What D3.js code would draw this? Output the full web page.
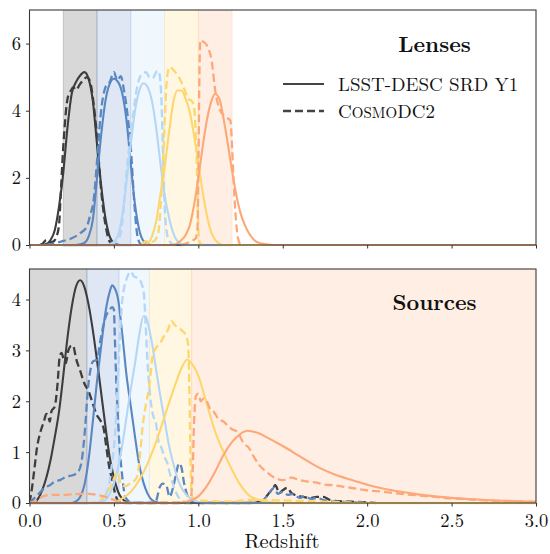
<!DOCTYPE html>
<html>
<head>
<meta charset="utf-8">
<script src="https://cdn.jsdelivr.net/npm/d3@7"></script>
<style>
  html, body { margin: 0; padding: 0; background: #fff; }
  svg { display: block; }
</style>
</head>
<body>
<svg id="chart" width="550" height="554"></svg>
<script>
// ---------------- DATA ----------------
const xTicks = [0, 0.5, 1.0, 1.5, 2.0, 2.5, 3.0];
const lensYTicks = [0, 2, 4, 6];
const srcYTicks = [0, 1, 2, 3, 4];
const binColors = ["#3d3d3d", "#5a87c1", "#b4d6f7", "#fdd76d", "#fda878"];
const lensEdges = [0.2, 0.4, 0.6, 0.8, 1.0, 1.2];
const srcEdges = [0.0, 0.34, 0.53, 0.71, 0.96, 3.05];
const legendLabels = ["LSST-DESC SRD Y1", "CosmoDC2"];

// Lenses, LSST-DESC SRD Y1 (solid), [redshift, n(z)]
const lensY1_1 = [[0.075,0],[0.1,0.03],[0.125,0.15],[0.15,0.45],[0.175,1.15],[0.2,2.15],[0.225,3.5],[0.25,4.5],[0.275,4.85],[0.3,5.05],[0.325,5.15],[0.35,4.95],[0.375,4.3],[0.4,3.0],[0.425,1.75],[0.45,0.8],[0.475,0.25],[0.5,0.06],[0.525,0.01],[0.55,0]];
const lensY1_2 = [[0.275,0],[0.3,0.02],[0.325,0.06],[0.35,0.25],[0.375,0.75],[0.4,2.0],[0.425,3.3],[0.45,4.3],[0.475,4.8],[0.5,4.95],[0.525,4.85],[0.55,4.5],[0.575,3.7],[0.6,2.4],[0.625,1.2],[0.65,0.45],[0.675,0.12],[0.7,0.03],[0.725,0]];
const lensY1_3 = [[0.45,0],[0.475,0.03],[0.5,0.1],[0.525,0.3],[0.55,0.9],[0.575,1.9],[0.6,3.0],[0.625,4.0],[0.65,4.6],[0.675,4.82],[0.7,4.7],[0.725,4.3],[0.75,3.5],[0.775,2.45],[0.8,1.5],[0.825,0.85],[0.85,0.38],[0.875,0.12],[0.9,0.03],[0.925,0]];
const lensY1_4 = [[0.675,0],[0.7,0.05],[0.725,0.25],[0.75,0.7],[0.775,1.5],[0.8,2.3],[0.825,3.3],[0.85,4.2],[0.875,4.6],[0.9,4.6],[0.925,4.35],[0.95,3.95],[0.975,3.25],[1.0,2.45],[1.025,1.6],[1.05,0.9],[1.075,0.4],[1.1,0.15],[1.125,0.04],[1.15,0]];
const lensY1_5 = [[0.85,0],[0.875,0.05],[0.9,0.15],[0.925,0.3],[0.95,0.6],[0.975,1.2],[1.0,2.0],[1.025,2.9],[1.05,3.7],[1.075,4.25],[1.1,4.5],[1.125,4.35],[1.15,3.75],[1.175,3.0],[1.2,2.2],[1.225,1.5],[1.25,0.95],[1.275,0.6],[1.3,0.35],[1.325,0.18],[1.35,0.08],[1.4,0.02],[1.45,0]];

// Lenses, CosmoDC2 (dashed)
const lensDC2_1 = [[0.06,0],[0.08,0.05],[0.1,0.15],[0.12,0.08],[0.14,0.1],[0.16,0.25],[0.175,0.6],[0.185,1.5],[0.195,2.5],[0.205,3.3],[0.225,4.35],[0.245,4.6],[0.26,4.7],[0.275,4.62],[0.3,4.8],[0.325,4.95],[0.34,5.0],[0.36,4.85],[0.375,4.4],[0.4,3.2],[0.425,1.6],[0.45,0.6],[0.475,0.1],[0.5,0]];
const lensDC2_2 = [[0.1,0],[0.15,0.05],[0.2,0.12],[0.25,0.2],[0.3,0.35],[0.34,0.55],[0.36,0.9],[0.38,1.34],[0.4,2.5],[0.42,3.8],[0.45,4.7],[0.475,4.85],[0.5,5.15],[0.52,4.9],[0.54,5.03],[0.56,4.6],[0.58,3.9],[0.6,2.9],[0.62,1.3],[0.64,0.25],[0.66,0.02],[0.68,0]];
const lensDC2_3 = [[0.48,0],[0.5,0.05],[0.525,0.15],[0.545,0.5],[0.56,1.2],[0.57,1.9],[0.59,2.9],[0.61,3.7],[0.63,4.5],[0.65,4.95],[0.67,5.1],[0.69,5.15],[0.71,5.0],[0.73,4.97],[0.75,5.15],[0.765,5.18],[0.78,4.5],[0.79,2.8],[0.8,1.2],[0.81,0.5],[0.825,0.15],[0.85,0.02],[0.87,0]];
const lensDC2_4 = [[0.66,0],[0.7,0.12],[0.73,0.1],[0.76,0.3],[0.775,1.0],[0.785,1.9],[0.795,3.0],[0.805,4.2],[0.815,5.0],[0.83,5.3],[0.855,5.2],[0.885,5.0],[0.915,4.67],[0.94,4.35],[0.96,4.3],[0.975,4.1],[0.99,2.5],[1.0,0.5],[1.01,0.05],[1.03,0]];
const lensDC2_5 = [[0.9,0],[0.93,0.05],[0.96,0.12],[0.985,0.2],[0.995,0.5],[1.0,2.0],[1.005,4.5],[1.012,6.1],[1.03,6.05],[1.05,5.95],[1.08,5.45],[1.1,4.6],[1.13,4.0],[1.16,3.82],[1.19,3.7],[1.2,2.9],[1.21,1.8],[1.22,0.95],[1.235,0.2],[1.25,0.02],[1.27,0]];

// Sources, LSST-DESC SRD Y1 (solid)
const srcY1_1 = [[0.025,0],[0.05,0.08],[0.075,0.25],[0.1,0.5],[0.125,0.85],[0.15,1.3],[0.175,1.8],[0.2,2.5],[0.225,3.25],[0.25,3.85],[0.275,4.25],[0.3,4.38],[0.325,4.25],[0.35,3.9],[0.375,3.4],[0.4,2.8],[0.425,2.15],[0.45,1.5],[0.475,0.9],[0.5,0.5],[0.525,0.22],[0.55,0.08],[0.575,0.02],[0.6,0]];
const srcY1_2 = [[0.25,0],[0.275,0.03],[0.3,0.12],[0.325,0.35],[0.35,0.85],[0.375,1.6],[0.4,2.4],[0.425,3.1],[0.45,3.75],[0.475,4.15],[0.49,4.28],[0.5,4.25],[0.525,4.0],[0.55,3.3],[0.575,2.5],[0.6,1.9],[0.625,1.3],[0.65,0.75],[0.675,0.4],[0.7,0.18],[0.725,0.06],[0.75,0.02],[0.775,0]];
const srcY1_3 = [[0.4,0],[0.45,0.06],[0.475,0.18],[0.5,0.38],[0.525,0.7],[0.55,1.15],[0.575,1.7],[0.6,2.25],[0.625,2.75],[0.65,3.3],[0.675,3.67],[0.69,3.65],[0.7,3.55],[0.725,3.15],[0.75,2.62],[0.775,2.1],[0.8,1.63],[0.825,1.15],[0.85,0.8],[0.875,0.5],[0.9,0.3],[0.925,0.18],[0.95,0.1],[0.975,0.05],[1.0,0.02],[1.05,0]];
const srcY1_4 = [[0.5,0],[0.55,0.09],[0.6,0.22],[0.65,0.45],[0.7,0.78],[0.75,1.2],[0.8,1.7],[0.85,2.2],[0.9,2.65],[0.935,2.82],[0.95,2.78],[1.0,2.5],[1.05,1.95],[1.1,1.4],[1.15,1.0],[1.2,0.65],[1.25,0.35],[1.3,0.15],[1.35,0.07],[1.4,0.03],[1.5,0]];
const srcY1_5 = [[0.85,0],[0.9,0.01],[0.95,0.04],[1.0,0.13],[1.05,0.33],[1.1,0.62],[1.15,0.95],[1.2,1.2],[1.25,1.36],[1.29,1.42],[1.35,1.38],[1.4,1.3],[1.5,1.12],[1.6,0.92],[1.7,0.72],[1.8,0.57],[1.9,0.46],[2.0,0.36],[2.1,0.28],[2.2,0.22],[2.3,0.17],[2.4,0.13],[2.5,0.1],[2.6,0.08],[2.7,0.06],[2.8,0.045],[2.9,0.035],[3.0,0.025]];

// Sources, CosmoDC2 (dashed)
const srcDC2_1 = [[0,0],[0.015,0.3],[0.03,0.7],[0.045,1.1],[0.065,1.4],[0.085,1.6],[0.1,1.75],[0.11,1.72],[0.12,1.6],[0.13,1.8],[0.15,1.9],[0.165,2.3],[0.18,2.9],[0.19,2.95],[0.2,2.85],[0.215,2.75],[0.23,3.0],[0.25,3.1],[0.26,3.08],[0.275,2.85],[0.3,2.6],[0.325,2.35],[0.35,2.2],[0.375,1.95],[0.4,1.72],[0.42,1.62],[0.44,1.45],[0.455,1.1],[0.47,0.75],[0.49,0.45],[0.51,0.15],[0.53,0.02],[0.56,0],[1.3,0],[1.38,0.05],[1.42,0.2],[1.44,0.28],[1.456,0.35],[1.48,0.2],[1.5,0.25],[1.527,0.3],[1.55,0.2],[1.58,0.15],[1.62,0.12],[1.67,0.1],[1.7,0.12],[1.74,0.12],[1.78,0.06],[1.85,0.03],[1.95,0.02],[2.05,0]];
const srcDC2_2 = [[0,0],[0.03,0.1],[0.06,0.2],[0.09,0.3],[0.12,0.35],[0.15,0.42],[0.18,0.45],[0.22,0.52],[0.26,0.55],[0.29,0.62],[0.31,0.85],[0.33,1.5],[0.345,2.2],[0.36,2.6],[0.375,2.78],[0.4,2.82],[0.42,3.2],[0.45,3.65],[0.475,3.8],[0.49,3.85],[0.5,3.8],[0.505,3.3],[0.515,2.3],[0.53,1.3],[0.55,0.5],[0.57,0.1],[0.6,0.02],[0.65,0],[0.72,0],[0.75,0.05],[0.77,0.3],[0.79,0.38],[0.81,0.35],[0.83,0.12],[0.85,0.3],[0.87,0.6],[0.885,0.78],[0.9,0.7],[0.915,0.4],[0.935,0.15],[0.96,0.03],[1.0,0],[1.3,0],[1.38,0.05],[1.42,0.2],[1.45,0.3],[1.47,0.18],[1.5,0.22],[1.53,0.16],[1.56,0.18],[1.6,0.1],[1.63,0.13],[1.67,0.08],[1.7,0.1],[1.75,0.05],[1.8,0.03],[1.9,0.02],[2.0,0]];
const srcDC2_3 = [[0.4,0],[0.44,0.1],[0.47,0.35],[0.49,0.8],[0.51,1.5],[0.53,2.9],[0.55,4.0],[0.575,4.4],[0.6,4.55],[0.62,4.45],[0.645,4.42],[0.665,4.3],[0.678,4.1],[0.688,3.5],[0.7,2.7],[0.715,2.1],[0.73,1.75],[0.75,1.55],[0.765,1.2],[0.78,1.1],[0.8,0.9],[0.815,0.8],[0.83,0.6],[0.86,0.27],[0.89,0.08],[0.92,0.02],[0.95,0]];
const srcDC2_4 = [[0.35,0],[0.4,0.02],[0.43,0.09],[0.46,0.2],[0.49,0.4],[0.51,0.55],[0.525,0.6],[0.54,0.38],[0.57,0.33],[0.6,0.4],[0.625,0.45],[0.64,0.55],[0.655,0.95],[0.67,1.5],[0.69,1.95],[0.71,2.3],[0.73,2.9],[0.75,3.05],[0.775,3.15],[0.8,3.3],[0.82,3.4],[0.84,3.58],[0.86,3.5],[0.88,3.45],[0.9,3.4],[0.925,3.3],[0.94,3.1],[0.948,2.0],[0.955,0.6],[0.965,0.1],[1.0,0.05],[1.2,0.03],[1.3,0.06],[1.5,0.05],[1.8,0.02],[2.0,0]];
const srcDC2_5 = [[0,0],[0.03,0.03],[0.06,0.1],[0.1,0.15],[0.15,0.16],[0.2,0.16],[0.25,0.17],[0.3,0.18],[0.35,0.18],[0.4,0.16],[0.45,0.12],[0.5,0.06],[0.55,0.02],[0.6,0],[0.85,0],[0.93,0.02],[0.955,0.1],[0.965,0.5],[0.975,1.6],[0.985,2.1],[1.0,2.15],[1.015,2.0],[1.03,2.05],[1.05,2.0],[1.07,1.85],[1.09,1.8],[1.12,1.65],[1.15,1.6],[1.18,1.5],[1.2,1.45],[1.23,1.4],[1.27,1.17],[1.3,1.08],[1.33,0.9],[1.36,0.75],[1.4,0.62],[1.45,0.5],[1.5,0.45],[1.55,0.5],[1.6,0.45],[1.65,0.42],[1.7,0.4],[1.75,0.36],[1.8,0.35],[1.9,0.3],[2.0,0.25],[2.1,0.22],[2.2,0.18],[2.3,0.15],[2.4,0.12],[2.5,0.09],[2.6,0.07],[2.7,0.05],[2.8,0.04],[2.9,0.03],[3.0,0.02]];

const lensY1 = [lensY1_1, lensY1_2, lensY1_3, lensY1_4, lensY1_5];
const lensDC2 = [lensDC2_1, lensDC2_2, lensDC2_3, lensDC2_4, lensDC2_5];
const srcY1 = [srcY1_1, srcY1_2, srcY1_3, srcY1_4, srcY1_5];
const srcDC2 = [srcDC2_1, srcDC2_2, srcDC2_3, srcDC2_4, srcDC2_5];

// ---------------- LAYOUT ----------------
const FONT = "'Latin Modern Roman', 'Liberation Serif', serif";
const svg = d3.select("#chart");
const xL = 29.5, xR = 536;
const x = d3.scaleLinear().domain([0, 3]).range([xL, xR]);
const panels = [
  { top: 10, bottom: 245, ymax: 7.0, yTicks: lensYTicks, edges: lensEdges, y1: lensY1, dc2: lensDC2, title: "Lenses", titleY: 52, xLabels: false, id: "p1" },
  { top: 269, bottom: 503, ymax: 4.6, yTicks: srcYTicks, edges: srcEdges, y1: srcY1, dc2: srcDC2, title: "Sources", titleY: 310, xLabels: true, id: "p2" }
];

panels.forEach(p => {
  const y = d3.scaleLinear().domain([0, p.ymax]).range([p.bottom, p.top]);
  const g = svg.append("g");
  svg.append("clipPath").attr("id", "clip-" + p.id)
    .append("rect").attr("x", xL).attr("y", p.top).attr("width", xR - xL).attr("height", p.bottom - p.top + 1.5);

  const inner = g.append("g").attr("clip-path", `url(#clip-${p.id})`);

  // bands
  for (let i = 0; i < 5; i++) {
    inner.append("rect")
      .attr("x", x(p.edges[i])).attr("y", p.top - 2)
      .attr("width", x(p.edges[i + 1]) - x(p.edges[i]))
      .attr("height", p.bottom - p.top + 4)
      .attr("fill", binColors[i]).attr("fill-opacity", 0.2)
      .attr("stroke", binColors[i]).attr("stroke-opacity", 0.2).attr("stroke-width", 1);
  }

  const line = d3.line().x(d => x(d[0])).y(d => y(d[1])).curve(d3.curveMonotoneX);

  for (let i = 0; i < 5; i++) {
    const solid = [[0, 0], ...p.y1[i], [3, 0]].filter((d, k, a) => k === 0 || d[0] > a[k - 1][0]);
    inner.append("path").datum(solid).attr("d", line)
      .attr("fill", "none").attr("stroke", binColors[i]).attr("stroke-width", 2.1)
      .attr("stroke-linejoin", "round");
    inner.append("path").datum(p.dc2[i]).attr("d", line)
      .attr("fill", "none").attr("stroke", binColors[i]).attr("stroke-width", 2.3)
      .attr("stroke-dasharray", "8,4").attr("stroke-linejoin", "round");
  }

  // axes
  const ax = g.append("g").attr("transform", `translate(0,${p.bottom})`)
    .call(d3.axisBottom(x).tickValues(xTicks).tickSize(3.5).tickPadding(7)
      .tickFormat(p.xLabels ? d3.format(".1f") : () => ""));
  const ay = g.append("g").attr("transform", `translate(${xL},0)`)
    .call(d3.axisLeft(y).tickValues(p.yTicks).tickSize(3.5).tickPadding(5).tickFormat(d3.format("d")));
  [ax, ay].forEach(a => {
    a.attr("font-family", FONT).attr("font-size", 18.5);
    a.select(".domain").remove();
    a.selectAll(".tick line").attr("stroke", "#333").attr("stroke-width", 1);
    a.selectAll(".tick text").attr("font-family", FONT).attr("font-size", 18.5).attr("fill", "#111");
  });

  // frame
  g.append("rect").attr("x", xL).attr("y", p.top).attr("width", xR - xL).attr("height", p.bottom - p.top)
    .attr("fill", "none").attr("stroke", "#3a3a3a").attr("stroke-width", 1.1);

  // title
  g.append("text").attr("x", 434.5).attr("y", p.titleY).attr("text-anchor", "middle")
    .attr("font-family", FONT).attr("fill", "#111")
    .attr("font-size", 22).attr("font-weight", "bold").text(p.title);
});

// legend
const lg = svg.append("g");
const legY = [84, 111];
lg.append("line").attr("x1", 283).attr("x2", 324).attr("y1", legY[0]).attr("y2", legY[0])
  .attr("stroke", "#444").attr("stroke-width", 2.1);
lg.append("line").attr("x1", 283).attr("x2", 324).attr("y1", legY[1]).attr("y2", legY[1])
  .attr("stroke", "#444").attr("stroke-width", 2.3).attr("stroke-dasharray", "8,4");
lg.append("text").attr("x", 338).attr("y", legY[0] + 7).attr("font-family", FONT).attr("fill", "#111")
  .attr("font-size", 19).text(legendLabels[0]);
const t2 = lg.append("text").attr("x", 338).attr("y", legY[1] + 7).attr("font-family", FONT).attr("fill", "#111")
  .attr("font-size", 19);
t2.append("tspan").text("C");
t2.append("tspan").attr("font-size", 15).text("OSMO");
t2.append("tspan").text("DC2");

// x-axis label
svg.append("text").attr("x", 282).attr("y", 548).attr("text-anchor", "middle")
  .attr("font-family", FONT).attr("fill", "#111")
  .attr("font-size", 20.5).text("Redshift");
</script>
</body>
</html>
